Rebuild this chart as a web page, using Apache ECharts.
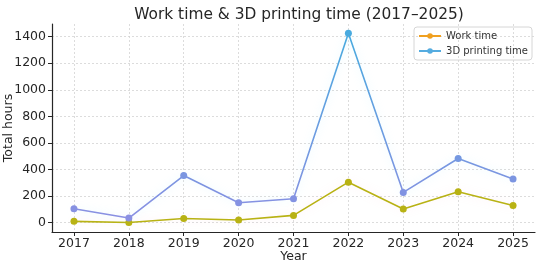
<!DOCTYPE html>
<html><head><meta charset="utf-8">
<script src="https://cdn.jsdelivr.net/npm/echarts@6/dist/echarts.min.js"></script>
<style>html,body{margin:0;padding:0;background:#fff}#c{width:550px;height:266px}</style>
</head><body><div id="c"></div>
<script>
const years = [2017, 2018, 2019, 2020, 2021, 2022, 2023, 2024, 2025];
const workTime = [10, 2, 32, 20, 55, 305, 103, 233, 130];
const printTime = [105, 35, 355, 150, 180, 1425, 228, 483, 328];
const yTicks = [0, 200, 400, 600, 800, 1000, 1200, 1400];

const chart = echarts.init(document.getElementById('c'));
const font = 'DejaVu Sans';
chart.setOption({
  animation: false,
  textStyle: { fontFamily: font },
  title: {
    text: 'Work time & 3D printing time (2017\u20132025)',
    left: 294, top: 2, textAlign: 'center',
    textStyle: { fontFamily: font, fontSize: 15.4, fontWeight: 'normal', color: '#262626' }
  },
  grid: { left: 52, right: 15, top: 24, bottom: 34, outerBoundsMode: 'none', containLabel: false },
  legend: {
    orient: 'vertical', right: 18, top: 27,
    itemWidth: 22, itemHeight: 7, itemGap: 5,
    padding: [4, 4, 4, 4],
    borderColor: '#d6d6d6', borderWidth: 1, borderRadius: 3,
    textStyle: { fontFamily: font, fontSize: 10, color: '#333' },
    data: [
      { name: 'Work time', itemStyle: { color: '#f0a020' }, lineStyle: { color: '#f0a020' } },
      { name: '3D printing time', itemStyle: { color: '#55ace0' }, lineStyle: { color: '#55ace0' } }
    ]
  },
  visualMap: [{
    show: false, type: 'continuous', seriesIndex: 1, dimension: 1,
    min: 0, max: 1425, inRange: { color: ['#8c8fe2', '#48aadf'] }
  }],
  xAxis: {
    type: 'value', min: 2016.6, max: 2025.4,
    name: 'Year', nameLocation: 'middle', nameGap: 18, nameMoveOverlap: false,
    nameTextStyle: { fontFamily: font, fontSize: 12.5, color: '#262626' },
    axisLine: { show: true, onZero: false, lineStyle: { color: '#262626', width: 1.2 } },
    axisTick: { show: true, length: 4, lineStyle: { color: '#262626' }, customValues: years },
    axisLabel: { fontFamily: font, fontSize: 12.5, color: '#262626', margin: 5, customValues: years, formatter: v => String(v) },
    splitLine: { show: true, lineStyle: { color: '#d4d4d4', type: [2, 2], width: 0.8 } }
  },
  yAxis: {
    type: 'value', min: -70, max: 1495,
    name: 'Total hours', nameLocation: 'middle', nameGap: 37, nameRotate: 90, nameMoveOverlap: false,
    nameTextStyle: { fontFamily: font, fontSize: 12.5, color: '#262626' },
    axisLine: { show: true, onZero: false, lineStyle: { color: '#262626', width: 1.2 } },
    axisTick: { show: true, length: 4, lineStyle: { color: '#262626' }, customValues: yTicks },
    axisLabel: { fontFamily: font, fontSize: 12.5, color: '#262626', margin: 6, customValues: yTicks, formatter: v => String(v) },
    splitLine: { show: true, lineStyle: { color: '#d4d4d4', type: [2, 2], width: 0.8 } }
  },
  series: [
    {
      name: 'Work time', type: 'line',
      data: years.map((y, i) => [y, workTime[i]]),
      symbol: 'circle', symbolSize: 7,
      itemStyle: { color: '#b8b214' },
      lineStyle: { color: '#b8b214', width: 1.6, shadowColor: 'rgba(255,180,200,0.25)', shadowBlur: 8 }
    },
    {
      name: '3D printing time', type: 'line',
      data: years.map((y, i) => [y, printTime[i]]),
      symbol: 'circle', symbolSize: 7,
      lineStyle: { width: 1.6, shadowColor: 'rgba(150,230,255,0.3)', shadowBlur: 8 }
    }
  ]
});
</script></body></html>
